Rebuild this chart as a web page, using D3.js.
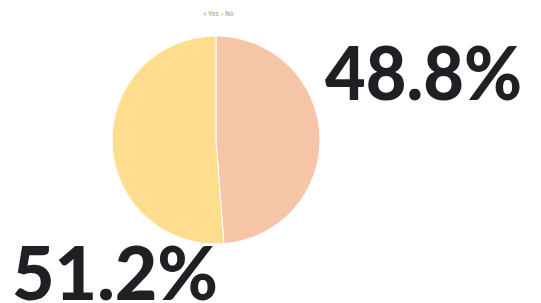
<!DOCTYPE html>
<html><head><meta charset="utf-8">
<script src="https://cdn.jsdelivr.net/npm/d3@7"></script>
<style>html,body{margin:0;padding:0;background:#fff;}svg{display:block;}</style>
</head><body>
<svg id="chart" width="541" height="303"></svg>
<script>
const categories = ["Yes", "No"];
const values = [48.8, 51.2];
const labels = ["48.8%", "51.2%"];
const colors = ["#F6C5A7", "#FEDD8E"];

const svg = d3.select("#chart");
const cx = 216, cy = 140, r = 104;

const pie = d3.pie().sort(null).value(d => d.v);
const arcs = pie(categories.map((c, i) => ({c, v: values[i]})));
const arc = d3.arc().innerRadius(0).outerRadius(r);
const color = d3.scaleOrdinal().domain(categories).range(colors);

const g = svg.append("g").attr("transform", `translate(${cx},${cy})`);
g.selectAll("path").data(arcs).join("path")
  .attr("d", arc)
  .attr("fill", d => color(d.data.c))
  .attr("stroke", "#fff").attr("stroke-width", 1);

// legend
const leg = svg.append("g").attr("transform", "translate(205,16)");
const items = leg.selectAll("g").data(categories).join("g")
  .attr("transform", (d, i) => `translate(${i * 17},0)`);
items.append("circle").attr("r", 1.5).attr("cx", 0).attr("cy", -2).attr("fill", d => color(d));
items.append("text").attr("x", 3).attr("y", 0).text(d => d)
  .attr("font-family", "Roboto, sans-serif").attr("font-size", 6.5).attr("fill", "#999");

// big labels
const pos = [[325, 100, 197], [12, 300, 206]];
svg.selectAll("text.big").data(labels).join("text").attr("class", "big")
  .attr("x", (d, i) => pos[i][0]).attr("y", (d, i) => pos[i][1])
  .attr("textLength", (d, i) => pos[i][2]).attr("lengthAdjust", "spacingAndGlyphs")
  .text(d => d)
  .attr("font-family", "Lato, sans-serif").attr("font-weight", 900)
  .attr("font-size", 75).attr("fill", "#1f1f24");
</script>
</body></html>
